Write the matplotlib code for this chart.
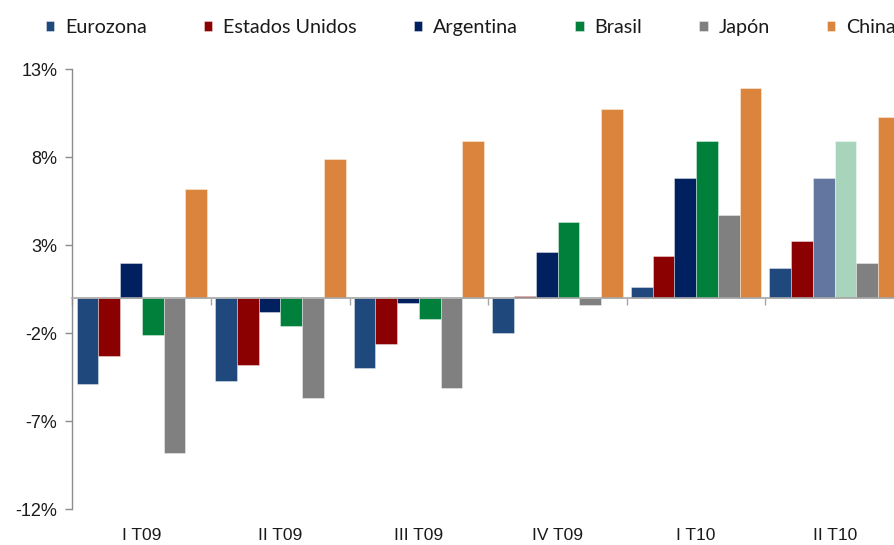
import matplotlib
matplotlib.use("Agg")
import matplotlib.pyplot as plt
import numpy as np

# Quarterly GDP growth (year-on-year, %)
quarters = ["I T09", "II T09", "III T09", "IV T09", "I T10", "II T10"]
eurozona = [-4.9, -4.7, -4.0, -2.0, 0.6, 1.7]
estados_unidos = [-3.3, -3.8, -2.6, 0.1, 2.4, 3.2]
argentina = [2.0, -0.8, -0.3, 2.6, 6.8, 6.8]
brasil = [-2.1, -1.6, -1.2, 4.3, 8.9, 8.9]
japon = [-8.8, -5.7, -5.1, -0.4, 4.7, 2.0]
china = [6.2, 7.9, 8.9, 10.7, 11.9, 10.3]

series_names = ["Eurozona", "Estados Unidos", "Argentina", "Brasil", "Japón", "China"]
series_values = [eurozona, estados_unidos, argentina, brasil, japon, china]
colors = ["#1F497D", "#8B0000", "#002060", "#00803A", "#808080", "#DB843D"]
# lighter shades used for estimated figures in the last quarter
estimate_colors = {"Argentina": "#62769F", "Brasil": "#A8D4BC"}

y_ticks = [-12, -7, -2, 3, 8, 13]

fig = plt.figure(figsize=(8.95, 5.45), dpi=100)
W, H = 895, 545
ax = fig.add_axes([72.5 / W, 1 - 509 / H, (904 - 72.5) / W, (509 - 69) / H])

n = len(series_names)
x = np.arange(len(quarters))
bar_w = 0.157
offsets = (np.arange(n) - (n - 1) / 2) * bar_w

containers = []
for i, (name, vals, col) in enumerate(zip(series_names, series_values, colors)):
    bc = ax.bar(x + offsets[i], vals, width=bar_w, color=col, label=name,
                edgecolor=(1, 1, 1, 0.45), linewidth=0.6, zorder=2)
    if name in estimate_colors:
        bc.patches[-1].set_facecolor(estimate_colors[name])
    containers.append(bc)

ax.set_xlim(-0.5, len(quarters) - 0.5)
ax.set_ylim(-12, 13)

# y axis
ax.set_yticks(y_ticks)
ax.set_yticklabels([f"{v}%" for v in y_ticks], fontsize=13,
                   family=["Liberation Sans", "DejaVu Sans"], color="#1a1a1a")
ax.tick_params(axis="y", direction="out", length=5, width=1, color="#8c8c8c", pad=6)

# category axis drawn at zero with ticks at the category boundaries
ax.spines["bottom"].set_position(("data", 0))
ax.spines["bottom"].set_color("#a6a6a6")
ax.spines["bottom"].set_linewidth(1.2)
ax.spines["left"].set_color("#8c8c8c")
ax.spines["left"].set_linewidth(1.0)
ax.spines["top"].set_visible(False)
ax.spines["right"].set_visible(False)
ax.set_xticks(np.arange(len(quarters) + 1) - 0.5)
ax.set_xticklabels([])
ax.tick_params(axis="x", direction="out", length=5, width=1, color="#a6a6a6")

for xi, q in zip(x, quarters):
    ax.text(xi, -0.06, q, transform=ax.get_xaxis_transform(), ha="center", va="center",
            fontsize=12.5, family=["Liberation Sans", "DejaVu Sans"], color="#1a1a1a")

leg = fig.legend(handles=containers, labels=series_names, loc="center left",
                 bbox_to_anchor=(46 / W, 1 - 27.8 / H), ncol=6, frameon=False,
                 borderpad=0, borderaxespad=0, handlelength=0.42, handleheight=0.42,
                 handletextpad=0.55, columnspacing=2.9,
                 prop={"family": ["Lato", "DejaVu Sans"], "size": 14.2})
for t in leg.get_texts():
    t.set_color("#1a1a1a")

fig.savefig("out.png", dpi=100)
